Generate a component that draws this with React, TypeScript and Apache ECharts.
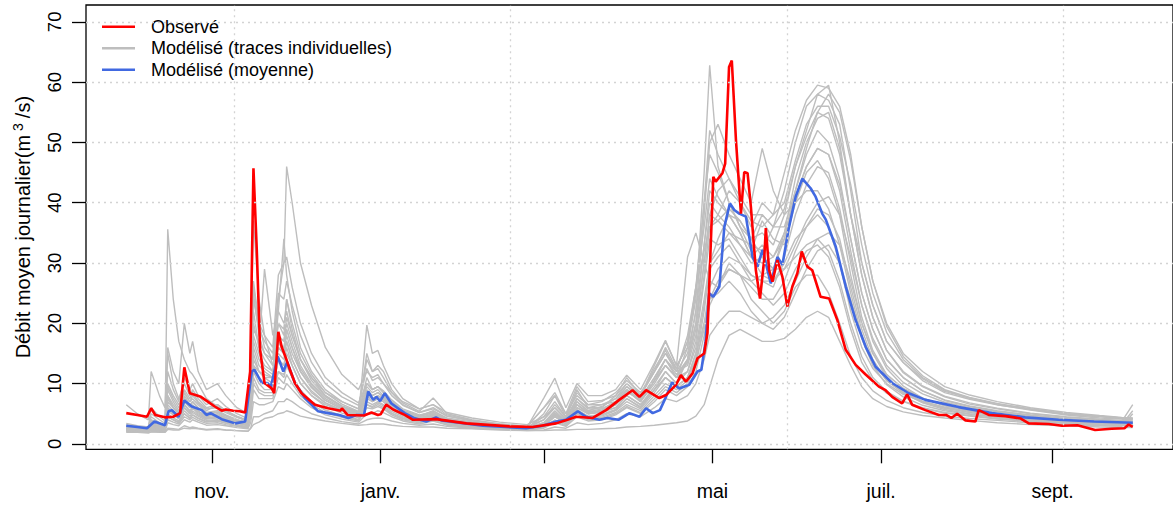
import React, { useEffect, useRef } from 'react';
import * as echarts from 'echarts';

// Day index (0 = 1 October) of the shared sampling grid for the individual model traces
const GRID_DAYS = [
  0, 4, 8, 9, 12, 14, 15, 17, 19, 21,
  23, 24, 26, 29, 33, 36, 40, 44, 45, 46,
  48, 50, 53, 55, 57, 58, 60, 63, 67, 72,
  78, 84, 87, 89, 91, 93, 96, 100, 106, 111,
  116, 125, 135, 145, 151, 155, 159, 163, 167, 172,
  177, 181, 186, 191, 195, 199, 203, 206, 209, 211,
  214, 218, 222, 226, 230, 234, 238, 242, 246, 250,
  254, 258, 262, 266, 270, 275, 281, 288, 296, 305,
  315, 327, 340, 352, 360, 364,
];

const TRACE_01 = [
  2.6, 2.4, 2.3, 4.0, 3.0, 2.6, 35.6, 24, 17, 14,
  12, 11.5, 10, 7.5, 6.2, 5.4, 4.5, 3.8, 9, 22,
  16, 14, 12, 20, 18, 24, 19, 14, 11, 8,
  6.2, 5.0, 11, 9, 9.5, 8.5, 6.8, 5.5, 4.6, 5.5,
  4.2, 3.6, 3.1, 2.7, 3.5, 5, 3.8, 6, 5, 5.5,
  6, 8, 6.5, 9, 12, 10, 14, 22, 33, 40,
  38, 36, 33, 30, 31, 29, 35, 44, 50, 54,
  55, 49, 38, 28, 21, 15.5, 11.8, 9.5, 7.8, 6.6,
  5.8, 5.0, 4.4, 4.0, 3.8, 3.7,
];
const TRACE_02 = [
  2.0, 1.9, 1.9, 2.0, 2.0, 2.0, 2.6, 2.5, 2.4, 3.0,
  2.7, 2.8, 2.6, 2.4, 2.5, 2.3, 2.2, 2.1, 2.6, 3.2,
  3.6, 4.2, 4.5, 5.0, 5.2, 5.5, 5.2, 4.6, 4.2, 3.8,
  3.4, 3.1, 3.2, 3.3, 3.3, 3.3, 3.1, 2.9, 2.8, 2.8,
  2.6, 2.5, 2.3, 2.2, 2.2, 2.3, 2.3, 2.4, 2.4, 2.5,
  2.6, 2.8, 2.9, 3.1, 3.3, 3.5, 3.8, 4.6, 6.5, 9.5,
  14, 18, 19, 18, 17, 17, 17.5, 19, 21, 22,
  21, 17, 13, 9.5, 7.5, 6.2, 5.3, 4.7, 4.3, 3.9,
  3.5, 3.2, 3.0, 2.8, 2.7, 2.7,
];
const TRACE_03 = [
  2.8, 2.6, 2.5, 3.5, 3.2, 3.0, 8, 6, 5, 8,
  6.5, 7, 6, 5, 4.6, 4.2, 3.8, 3.4, 12, 26,
  20, 18, 16, 28, 30, 46, 40, 30, 23, 16,
  11.5, 9, 12, 11, 11.5, 10, 8.5, 7.0, 5.8, 6.5,
  5.2, 4.3, 3.6, 3.2, 4.5, 6, 4.2, 7, 5.5, 5.2,
  6.5, 9, 7, 10, 13, 11, 16, 26, 40, 48,
  45, 40, 36, 34, 35, 33, 38, 46, 52, 58,
  59.5, 50, 38, 30, 23, 17, 13.5, 10.5, 8.5, 7.4,
  6.5, 5.7, 4.9, 4.5, 4.2, 4.1,
];
const TRACE_04 = [
  6.5, 5, 4, 12, 8, 6, 16, 12, 10, 20,
  15, 17, 12, 9, 10, 8, 6, 5, 10, 20,
  16, 29, 18, 22, 20, 22, 18, 14, 11, 8.5,
  7, 5.8, 14, 12, 12.5, 11, 8.5, 6.5, 5.2, 6,
  4.6, 3.9, 3.3, 2.9, 6, 8, 5, 8, 6.5, 6.5,
  7, 9.5, 7.5, 11, 14, 11, 12, 16, 24, 30,
  34, 38, 35, 31, 28, 27, 30, 34, 36, 38,
  36, 30, 22, 16, 12.5, 10, 8.2, 7, 6, 5.4,
  4.8, 4.3, 3.8, 3.5, 3.4, 3.4,
];
const TRACE_05 = [
  3.0, 2.7, 2.5, 5, 4, 3.4, 10, 8, 6.5, 9,
  7.5, 8.5, 7, 5.8, 6, 5.2, 4.4, 3.8, 16, 37,
  24, 18, 13, 16, 15, 17, 14, 11, 8.5, 6.8,
  5.6, 4.8, 8, 7, 7.5, 7, 5.8, 4.8, 4.1, 4.6,
  3.7, 3.2, 2.8, 2.5, 5, 8, 4.5, 9, 6, 6,
  8, 11, 8, 13, 17, 13, 16, 24, 45, 62.8,
  46, 40, 36, 32, 37, 34, 33, 40, 45, 47,
  44, 38, 28, 20, 15, 11.5, 9.2, 7.6, 6.4, 5.6,
  5.0, 4.4, 3.9, 3.6, 3.5, 3.5,
];
const TRACE_06 = [
  2.4, 2.2, 2.1, 2.8, 2.5, 2.4, 6, 5, 4.2, 6,
  5, 6, 5, 4.2, 4.5, 4, 3.5, 3.1, 5, 12,
  10, 9, 9, 14, 13, 15, 13, 10, 8, 6.5,
  5.5, 4.6, 19.7, 15, 15.5, 13, 10, 7.5, 5.8, 6.5,
  4.8, 3.9, 3.2, 2.8, 7.6, 10.9, 6, 10, 8, 8,
  9, 11.4, 9, 13.4, 17.2, 13, 31, 35, 30, 27,
  26, 30, 28, 24, 22, 20, 22, 26, 28, 28,
  25, 20, 14.5, 11, 8.8, 7.2, 6.0, 5.2, 4.6, 4.2,
  3.9, 3.5, 3.2, 3.0, 2.9, 5.0,
];
const TRACE_07 = [
  2.5, 2.3, 2.2, 3.2, 2.8, 2.6, 7, 6, 5, 7,
  6, 6.5, 5.5, 4.6, 4.8, 4.3, 3.7, 3.2, 8, 15,
  12, 11, 10, 17, 15, 19, 16, 12, 9.5, 7.2,
  5.8, 4.9, 9, 8, 8.5, 7.8, 6.3, 5.1, 4.3, 5,
  3.9, 3.3, 2.9, 2.6, 3.5, 5.5, 3.8, 6.5, 5, 5.2,
  6, 8, 6.5, 9.5, 12, 10, 12, 17, 27, 34,
  33, 34, 31, 28, 27, 26, 31, 38, 43, 46,
  45, 39, 30, 21, 15.5, 11.5, 9.2, 7.5, 6.4, 5.6,
  5.0, 4.4, 3.9, 3.6, 3.5, 3.5,
];
const TRACE_08 = [
  2.2, 2.1, 2.0, 2.6, 2.4, 2.3, 4.5, 4, 3.5, 5,
  4.2, 4.8, 4.2, 3.6, 3.8, 3.4, 3.0, 2.7, 5, 10,
  8.5, 8, 8, 12, 11.5, 13, 11, 8.5, 7, 5.6,
  4.7, 4.0, 6.5, 6, 6.5, 6, 5, 4.2, 3.6, 4.2,
  3.3, 2.9, 2.6, 2.4, 3, 4.5, 3.3, 5.5, 4.5, 4.6,
  5.5, 7, 5.8, 8.5, 11, 9.5, 11, 15, 23, 30,
  32, 35, 34, 33, 32, 36, 42, 50, 56, 58,
  57, 53, 42, 30, 23, 17, 13.5, 10.8, 8.7, 7.6,
  6.6, 5.8, 5.0, 4.6, 4.3, 4.2,
];
const TRACE_09 = [
  3.2, 2.8, 2.6, 4.5, 3.5, 3.0, 15, 10, 7.5, 10,
  8, 9, 7.5, 6, 6.5, 5.5, 4.6, 3.9, 9, 18,
  15, 13, 12, 22, 34, 28, 22, 16, 12, 9,
  7, 5.8, 10, 9, 9.5, 8.5, 7, 5.6, 4.7, 5.4,
  4.3, 3.6, 3.1, 2.7, 4.5, 7, 4.4, 7.5, 5.8, 5.8,
  7, 9, 7, 10.5, 14, 11.5, 14, 20, 33, 42,
  40, 38, 37, 34, 38, 36, 36, 42, 48, 52,
  50, 44, 34, 25, 19, 14, 11, 8.8, 7.3, 6.3,
  5.5, 4.8, 4.2, 3.9, 3.7, 6.5,
];
const TRACE_10 = [
  2.1, 2.0, 1.9, 2.3, 2.2, 2.1, 3.5, 3.2, 3, 4,
  3.6, 4, 3.6, 3.1, 3.2, 3, 2.7, 2.5, 3.5, 7,
  6.5, 6.5, 7, 9.5, 9, 10, 9, 7.5, 6, 4.8,
  4.1, 3.6, 5, 5, 5.5, 5.2, 4.5, 3.8, 3.3, 3.8,
  3.1, 2.7, 2.5, 2.3, 2.6, 3.5, 2.9, 4.5, 3.8, 4,
  4.8, 6, 5, 7, 9, 8, 9.5, 12, 18, 24,
  27, 29, 28, 26, 24, 24, 27, 32, 36, 39,
  38, 34, 26, 19, 14, 10.5, 8.4, 6.9, 5.9, 5.2,
  4.6, 4.1, 3.7, 3.4, 3.3, 3.3,
];
const TRACE_11 = [
  2.9, 2.6, 2.4, 3.8, 3.2, 2.8, 9, 7, 5.5, 8.5,
  7, 7.5, 6.5, 5.2, 5.5, 4.8, 4.0, 3.5, 11, 27,
  20, 16, 14, 20, 19, 24, 20, 15, 11.5, 8.5,
  6.6, 5.4, 9.5, 8.5, 9, 8, 6.6, 5.3, 4.5, 5.2,
  4.0, 3.4, 3.0, 2.7, 4, 6, 4, 7.5, 6, 6.5,
  7.5, 10, 8, 12, 15, 12, 15, 22, 38, 50,
  53, 48, 44, 40, 49, 42, 38, 40, 42, 42,
  39, 33, 25, 18, 13.5, 10.5, 8.6, 7.1, 6.1, 5.4,
  4.8, 4.3, 3.8, 3.5, 3.4, 3.4,
];
const TRACE_12 = [
  2.3, 2.1, 2.0, 2.5, 2.3, 2.2, 5, 4.3, 3.8, 5.5,
  4.6, 5.2, 4.6, 3.9, 4, 3.6, 3.2, 2.8, 6, 13,
  11, 10, 9.5, 14, 13, 16, 13, 10, 8, 6.2,
  5.1, 4.3, 7, 6.5, 7, 6.5, 5.4, 4.5, 3.9, 4.4,
  3.5, 3.0, 2.7, 2.4, 2.8, 4, 3.1, 5, 4.2, 4.4,
  5.2, 6.5, 5.5, 8, 10, 9, 10.5, 14, 22, 29,
  31, 33, 30, 27, 25, 23, 25, 29, 32, 33,
  31, 26, 19, 13.5, 10.5, 8.4, 7, 5.9, 5.1, 4.6,
  4.1, 3.7, 3.4, 3.1, 3.0, 3.0,
];
const TRACE_13 = [
  2.7, 2.5, 2.3, 3.3, 2.9, 2.7, 8, 6.5, 5.2, 7.5,
  6.2, 7, 6, 5, 5.2, 4.6, 3.9, 3.4, 7, 14,
  12, 11, 11, 18, 17, 20, 17, 13, 10, 7.8,
  6.2, 5.2, 8.5, 7.5, 8, 7.5, 6, 4.9, 4.2, 4.8,
  3.8, 3.2, 2.8, 2.5, 3.2, 5, 3.6, 6, 5, 5.5,
  6.5, 8.5, 7.5, 11, 14, 12, 13, 18, 28, 36,
  38, 42, 40, 37, 36, 38, 45, 52, 57, 59.5,
  59, 56, 48, 36, 27, 20, 15, 12, 9.5, 8.1,
  7.0, 6.0, 5.2, 4.7, 4.4, 4.3,
];
const TRACE_14 = [
  2.4, 2.3, 2.2, 2.7, 2.5, 2.4, 5.5, 4.8, 4.2, 6,
  5, 5.5, 4.8, 4.1, 4.3, 3.8, 3.4, 3.0, 7, 16,
  13, 12, 11, 15, 14, 17, 14, 11, 8.8, 6.8,
  5.5, 4.6, 7.5, 7, 7.5, 7, 5.8, 4.7, 4.0, 4.6,
  3.6, 3.1, 2.7, 2.4, 3, 4.5, 3.4, 5.5, 4.5, 4.8,
  5.6, 7.5, 6, 9, 11, 9.5, 11, 15, 20, 24,
  25, 27, 25, 22, 20, 19, 21, 25, 29, 32,
  33, 30, 24, 17.5, 13, 9.8, 7.8, 6.4, 5.5, 4.9,
  4.4, 4.0, 3.6, 3.3, 3.2, 5.5,
];
const TRACE_15 = [
  3.4, 3.0, 2.8, 6, 4.5, 3.8, 12, 9, 7, 11,
  9, 10, 8, 6.5, 7.5, 6.2, 5, 4.2, 11, 24,
  19, 17, 15, 25, 24, 27, 23, 18, 13.5, 10,
  7.8, 6.4, 12.5, 10.5, 11, 10, 8, 6.4, 5.2, 5.8,
  4.6, 3.8, 3.2, 2.8, 4, 6.5, 4.5, 8.5, 6.5, 7,
  8.5, 10.5, 8.5, 12, 16, 12.5, 17, 25, 40, 52,
  48, 44, 40, 36, 40, 38, 40, 47, 53, 56,
  56, 51, 43, 33, 25, 18.5, 14, 11, 8.9, 7.6,
  6.5, 5.6, 4.8, 4.3, 4.1, 4.0,
];
const TRACE_16 = [
  2.2, 2.1, 2.0, 2.4, 2.3, 2.2, 4, 3.6, 3.3, 4.5,
  4, 4.4, 3.9, 3.4, 3.5, 3.2, 2.9, 2.6, 4.5, 9,
  7.5, 7.5, 7.5, 11, 10, 11.5, 10, 8, 6.5, 5.2,
  4.4, 3.8, 6, 5.8, 6.2, 5.8, 4.8, 4.0, 3.5, 4.0,
  3.2, 2.8, 2.5, 2.3, 2.7, 3.8, 3.0, 5, 4, 4.2,
  5, 6.2, 5.2, 7.5, 9.5, 8.5, 10, 13, 20, 26,
  29, 31, 30, 28, 27, 27, 29, 33, 37, 40,
  41, 38, 31, 23, 17, 12.5, 9.6, 7.6, 6.3, 5.5,
  4.8, 4.2, 3.7, 3.4, 3.3, 3.3,
];
const TRACE_17 = [
  2.6, 2.4, 2.3, 3.0, 2.7, 2.5, 6.5, 5.5, 4.6, 6.5,
  5.5, 6.2, 5.4, 4.5, 5, 4.4, 3.8, 3.3, 9, 19,
  17, 15, 14, 24, 30, 31, 26, 20, 15, 11,
  8.5, 6.8, 10, 9, 9.5, 8.8, 7.3, 5.8, 4.8, 5.2,
  4.1, 3.4, 3.0, 2.6, 3.3, 5.2, 3.7, 6.5, 5.2, 5.6,
  6.8, 8.8, 7, 10.5, 13, 11, 13.5, 19, 30, 38,
  42, 44, 41, 38, 38, 36, 39, 46, 51, 55,
  54, 48, 38, 28, 21, 15.5, 12, 9.6, 7.9, 6.8,
  5.9, 5.1, 4.5, 4.1, 3.9, 3.8,
];
const TRACE_18 = [
  2.3, 2.2, 2.1, 2.6, 2.4, 2.3, 4.5, 4, 3.6, 5,
  4.3, 4.8, 4.3, 3.7, 3.9, 3.5, 3.1, 2.8, 5, 11,
  9, 8.5, 8.5, 12, 11, 13, 11, 9, 7, 5.6,
  4.7, 4.0, 6.5, 6.2, 6.8, 6.3, 5.1, 4.3, 3.7, 4.3,
  3.3, 2.9, 2.6, 2.4, 3.2, 4.8, 3.5, 7, 5.5, 6.2,
  7.5, 9.5, 8, 12, 15, 12.5, 17, 26, 32, 36,
  37, 39, 37, 34, 31, 29, 29, 31, 33, 34,
  32, 27, 20, 14.5, 11, 8.7, 7.1, 6.0, 5.2, 4.7,
  4.2, 3.8, 3.4, 3.2, 3.1, 3.1,
];
const TRACE_19 = [
  2.5, 2.3, 2.2, 2.9, 2.6, 2.5, 6, 5, 4.3, 6.5,
  5.3, 6, 5.2, 4.3, 4.6, 4.1, 3.5, 3.1, 6.5, 13,
  12, 11.5, 11, 16, 15, 18, 15, 12, 9.3, 7.2,
  5.8, 4.9, 8, 7.5, 8, 7.3, 6, 4.9, 4.2, 4.7,
  3.6, 3.1, 2.8, 2.5, 3, 4.6, 3.4, 5.7, 4.6, 4.9,
  5.7, 7.5, 6.2, 9, 11, 9.5, 11, 14, 19, 23,
  26, 29, 28, 27, 28, 29, 34, 42, 49, 55,
  58, 55, 47, 36, 27, 19.5, 14.5, 11.3, 9, 7.7,
  6.7, 5.8, 5.0, 4.6, 4.3, 4.2,
];
const TRACE_20 = [
  2.9, 2.7, 2.5, 4, 3.3, 2.9, 9.5, 7.5, 6, 8.5,
  7, 8, 6.8, 5.5, 6.5, 5.5, 4.5, 3.8, 8, 17,
  14, 12.5, 11.5, 18, 17, 21, 18, 14, 10.5, 8,
  6.3, 5.3, 15, 12, 13, 12, 9, 6.8, 5.4, 7.6,
  5, 4, 3.3, 2.9, 6, 8.5, 5, 9.5, 7, 7.2,
  8, 10, 8, 12.5, 15.5, 12, 18, 26, 36, 44,
  41, 38, 35, 31, 33, 31, 34, 41, 46, 49,
  48, 42, 32, 23, 17.5, 13, 10.2, 8.3, 6.9, 6.0,
  5.3, 4.6, 4.0, 3.7, 3.6, 3.6,
];
const TRACE_21 = [
  1.9, 1.9, 1.8, 2.0, 1.9, 1.9, 2.4, 2.3, 2.3, 2.6,
  2.5, 2.6, 2.5, 2.3, 2.4, 2.3, 2.2, 2.1, 2.6, 4.5,
  4.5, 5, 5.5, 7, 7, 7.5, 7, 6, 5, 4.3,
  3.7, 3.3, 4, 4.2, 4.3, 4.2, 3.8, 3.4, 3.1, 3.3,
  2.9, 2.6, 2.4, 2.2, 2.3, 2.8, 2.6, 3.5, 3.2, 3.4,
  4, 5, 4.5, 6, 7.5, 7, 8, 10, 14, 18,
  20, 22, 22, 21, 20, 21, 23, 27, 31, 34,
  35, 33, 27, 20, 15, 11, 8.5, 6.8, 5.7, 5.0,
  4.4, 3.9, 3.5, 3.2, 3.1, 3.1,
];
const TRACE_22 = [
  2.7, 2.5, 2.4, 3.5, 2.9, 2.7, 7.5, 6, 5, 7.5,
  6.2, 7, 6, 5, 5.3, 4.7, 4.0, 3.4, 14, 25,
  18, 15, 13, 17, 16, 19, 16, 12.5, 9.8, 7.5,
  6, 5, 8.8, 8, 8.5, 7.8, 6.3, 5.1, 4.3, 4.9,
  3.8, 3.2, 2.8, 2.5, 3.3, 5, 3.7, 6.5, 5.3, 5.8,
  6.8, 9, 7.3, 10.5, 13, 11, 14, 20, 30, 38,
  37, 35, 33, 31, 30, 31, 35, 41, 46, 49,
  48, 43, 34, 25, 19, 14, 11, 8.8, 7.2, 6.2,
  5.4, 4.7, 4.1, 3.8, 3.6, 3.6,
];
const GRAY_TRACES = [
  TRACE_01, TRACE_02, TRACE_03, TRACE_04, TRACE_05, TRACE_06, TRACE_07, TRACE_08,
  TRACE_09, TRACE_10, TRACE_11, TRACE_12, TRACE_13, TRACE_14, TRACE_15, TRACE_16,
  TRACE_17, TRACE_18, TRACE_19, TRACE_20, TRACE_21, TRACE_22,
];

// Observed daily discharge: [day index from 1 October, m3/s]
const OBSERVED: [number, number][] = [
  [0, 5.1], [4, 4.8], [7.5, 4.5], [9, 5.9], [10.5, 4.8], [14, 4.4], [17, 4.5], [19.5, 5.1],
  [21, 12.7], [23, 8.4], [25, 8.1], [27, 7.8], [29.5, 7.0], [32, 6.2], [34.5, 5.5], [36, 5.7],
  [38.7, 5.5], [41, 5.4], [43, 5.2], [44.8, 12], [46, 45.7], [47.2, 32.2], [48.4, 15.6],
  [50, 10.1], [52.6, 9.2], [53.5, 8.4], [55, 18.6], [56.2, 16.1], [58, 13.9], [59.2, 12.3],
  [61, 10.1], [63.4, 8.4], [68.2, 6.5], [73, 5.9], [77.5, 5.5], [78, 5.9], [80, 4.8], [86, 4.7],
  [88.7, 5.2], [91, 4.8], [92, 4.9], [94, 6.5], [96.5, 5.7], [100.7, 4.8], [103.7, 4.0],
  [112, 4.1], [123, 3.4], [138.6, 2.9], [147, 2.8], [155.5, 3.4], [159, 3.9], [162.7, 4.5],
  [168.7, 4.3], [173.5, 5.6], [178.3, 7.3], [183.1, 8.9], [185.6, 7.8], [188, 8.9], [192.8, 7.6],
  [195.2, 8.1], [198.8, 9.8], [200.6, 11.4], [202.4, 10.3], [204.8, 11.7], [206.6, 14.2],
  [209, 15], [210.2, 18.4], [212.3, 44.3], [213.2, 43.5], [215.6, 44.9], [216.6, 46.5],
  [218, 62.5], [219, 63.6], [220.5, 50.4], [222.3, 38.2], [223.5, 45.1], [224.7, 44.9],
  [225.9, 39.3], [227.7, 28.8], [229.2, 24.1], [230.7, 30.5], [231.3, 35.8], [232.5, 28.8],
  [233.7, 26.9], [235.5, 30.5], [237.3, 27.7], [239.1, 22.8], [240.9, 26.1], [242.7, 28.3],
  [244.3, 31.9], [246.3, 29.4], [248.1, 28.8], [251.1, 24.4], [254.2, 24.1], [257.2, 20.5],
  [260.2, 15.6], [263.8, 13.1], [267.4, 11.5], [272.2, 9.5], [274.6, 8.9], [277, 7.8],
  [280.6, 6.7], [282.4, 8.2], [284.2, 6.5], [289, 5.6], [293.9, 4.8], [296.5, 4.8], [298.4, 4.3],
  [300.5, 5.0], [303.5, 3.9], [307.1, 3.7], [308.3, 5.6], [311.9, 4.8], [317.9, 4.6], [321, 4.4],
  [323.5, 4.2], [326.4, 3.4], [333.6, 3.3], [338.4, 3.0], [344, 3.1], [350.4, 2.3], [356.4, 2.5],
  [361, 2.6], [362.5, 3.2], [364, 2.8],
];

// Mean of the model traces: [day index from 1 October, m3/s]
const MEAN: [number, number][] = [
  [0, 3.0], [4, 2.8], [7.5, 2.6], [10.2, 3.7], [14, 3.1], [15.3, 5.4], [16.5, 5.6], [18.9, 4.5],
  [21, 7.2], [23.7, 6.2], [27.3, 5.6], [29, 4.8], [30.5, 5.1], [34.5, 4.1], [39.4, 3.4], [43, 3.7],
  [45.4, 12.0], [46.3, 12.3], [49, 10.1], [51, 10.1], [52.3, 9.5], [54.8, 14.5], [56.8, 12.0],
  [58.2, 13.6], [61, 10.1], [64.6, 7.6], [69.4, 5.4], [73, 5.1], [77, 4.8], [80.3, 4.3],
  [83.3, 4.8], [86, 4.8], [87.5, 8.7], [89.3, 7.3], [90.5, 7.8], [91.8, 7.1], [93.5, 8.4],
  [95.9, 6.7], [100.7, 5.1], [104, 4.3], [108.5, 3.7], [112, 4.4], [114, 3.9], [129, 3.0],
  [144.6, 2.6], [150.6, 3.0], [155.5, 3.7], [159, 4.0], [163.3, 5.4], [166.3, 4.5], [171.1, 4.0],
  [174, 4.3], [178, 4.0], [182, 5.1], [185.6, 4.5], [188, 5.9], [190.4, 5.1], [193, 5.6],
  [195.2, 7.8], [197.4, 10.2], [200, 9.2], [203.6, 9.8], [206.6, 12.0], [208, 12.3], [209.5, 17],
  [210.8, 25.0], [212.3, 24.4], [214.5, 26.1], [216.3, 36.0], [218.3, 39.9], [219.9, 38.8],
  [221.7, 38.2], [224.1, 37.7], [226.5, 31.0], [228.3, 29.4], [230.1, 32.2], [233.1, 26.6],
  [235.5, 31.0], [237.3, 29.7], [239.7, 36.0], [242.1, 41.0], [244.5, 44.0], [247.5, 42.4],
  [249.3, 41.0], [251.7, 38.2], [253, 37.2], [256.6, 32.7], [260.2, 26.1], [263.8, 20.5],
  [267.4, 16.1], [271, 12.8], [277, 10.1], [283, 8.4], [289, 7.3], [301, 6.1], [313.1, 5.1],
  [325.1, 4.4], [337.2, 4.0], [350, 3.7], [364, 3.5],
];

const MONTH_TICK_DAYS = [31, 92, 151, 212, 273, 335];
const MONTH_LABELS = ['nov.', 'janv.', 'mars', 'mai', 'juil.', 'sept.'];
const Y_TICKS = [0, 10, 20, 30, 40, 50, 60, 70];
const V_GRID_DAYS = [39, 139, 239, 339];

const LEGEND_NAMES = ['Observé', 'Modélisé (traces individuelles)', 'Modélisé (moyenne)'];

const FONT = "'Liberation Sans', Arial, Helvetica, sans-serif";
const GRAY = '#BEBEBE';
const RED = '#FF0000';
const BLUE = '#4169E1';
const GRID_COLOR = '#D3D3D3';

export default function App() {
  const ref = useRef<HTMLDivElement>(null);

  useEffect(() => {
    document.body.style.margin = '0';
    if (!ref.current) return;
    const chart = echarts.init(ref.current, null, { renderer: 'svg' });

    const gridLineStyle = { color: GRID_COLOR, type: [2, 4], width: 1.3 };

    const series: any[] = [
      {
        type: 'line',
        name: '__grid',
        data: [],
        silent: true,
        z: 1,
        markLine: {
          silent: true,
          symbol: ['none', 'none'],
          label: { show: false },
          lineStyle: gridLineStyle,
          emphasis: { disabled: true },
          data: [
            ...Y_TICKS.map((v) => ({ yAxis: v })),
            ...V_GRID_DAYS.map((d) => ({ xAxis: d })),
          ],
        },
      },
    ];

    GRAY_TRACES.forEach((tr) => {
      series.push({
        type: 'line',
        name: LEGEND_NAMES[1],
        data: GRID_DAYS.map((d, i) => [d, tr[i]]),
        showSymbol: false,
        symbol: 'none',
        silent: true,
        z: 2,
        lineStyle: { color: GRAY, width: 1.4 },
        itemStyle: { color: GRAY },
      });
    });

    series.push({
      type: 'line',
      name: LEGEND_NAMES[2],
      data: MEAN,
      showSymbol: false,
      symbol: 'none',
      silent: true,
      z: 3,
      lineStyle: { color: BLUE, width: 2.6 },
      itemStyle: { color: BLUE },
    });
    series.push({
      type: 'line',
      name: LEGEND_NAMES[0],
      data: OBSERVED,
      showSymbol: false,
      symbol: 'none',
      silent: true,
      z: 4,
      lineStyle: { color: RED, width: 2.6 },
      itemStyle: { color: RED },
    });

    chart.setOption({
      animation: false,
      backgroundColor: '#ffffff',
      textStyle: { fontFamily: FONT },
      grid: {
        show: true,
        left: 86,
        top: 5,
        width: 1089,
        height: 444.3,
        borderColor: '#000',
        borderWidth: 1.3,
        backgroundColor: 'transparent',
        containLabel: false,
      },
      legend: {
        data: LEGEND_NAMES,
        orient: 'vertical',
        left: 102,
        top: 16,
        padding: 0,
        itemGap: 0,
        itemWidth: 33,
        itemHeight: 2.6,
        icon: 'rect',
        selectedMode: false,
        textStyle: {
          fontFamily: FONT,
          fontSize: 18,
          color: '#000',
          lineHeight: 21.5,
          padding: [0, 0, 0, 11],
        },
      },
      xAxis: {
        type: 'value',
        min: -14.56,
        max: 378.56,
        axisLine: { show: false, onZero: false },
        splitLine: { show: false },
        axisTick: {
          show: true,
          customValues: MONTH_TICK_DAYS,
          length: 14,
          lineStyle: { color: '#000', width: 1.3 },
        },
        axisLabel: {
          customValues: MONTH_TICK_DAYS,
          formatter: (v: number) => {
            const i = MONTH_TICK_DAYS.indexOf(v);
            return i >= 0 ? MONTH_LABELS[i] : '';
          },
          fontSize: 19.5,
          fontFamily: FONT,
          color: '#000',
          margin: 32,
        },
      },
      yAxis: {
        type: 'value',
        min: -0.9,
        max: 72.8,
        axisLine: { show: false, onZero: false },
        splitLine: { show: false },
        axisTick: {
          show: true,
          customValues: Y_TICKS,
          length: 14,
          lineStyle: { color: '#000', width: 1.3 },
        },
        axisLabel: {
          customValues: Y_TICKS,
          rotate: 90,
          fontSize: 18.5,
          fontFamily: FONT,
          color: '#000',
          margin: 22,
        },
        name: '{a|Débit moyen journalier(m}{s|3}{a|/s)}',
        nameLocation: 'middle',
        nameGap: 50,
        nameTextStyle: {
          fontFamily: FONT,
          color: '#000',
          rich: {
            a: {
              fontSize: 20,
              fontFamily: FONT,
              color: '#000',
              lineHeight: 22,
              verticalAlign: 'bottom',
            },
            s: {
              fontSize: 14,
              fontFamily: FONT,
              color: '#000',
              verticalAlign: 'top',
              lineHeight: 14,
              padding: [0, 5, 12, 4],
            },
          },
        },
      },
      series,
    });

    return () => chart.dispose();
  }, []);

  return <div ref={ref} style={{ width: 1173, height: 506 }} />;
}
